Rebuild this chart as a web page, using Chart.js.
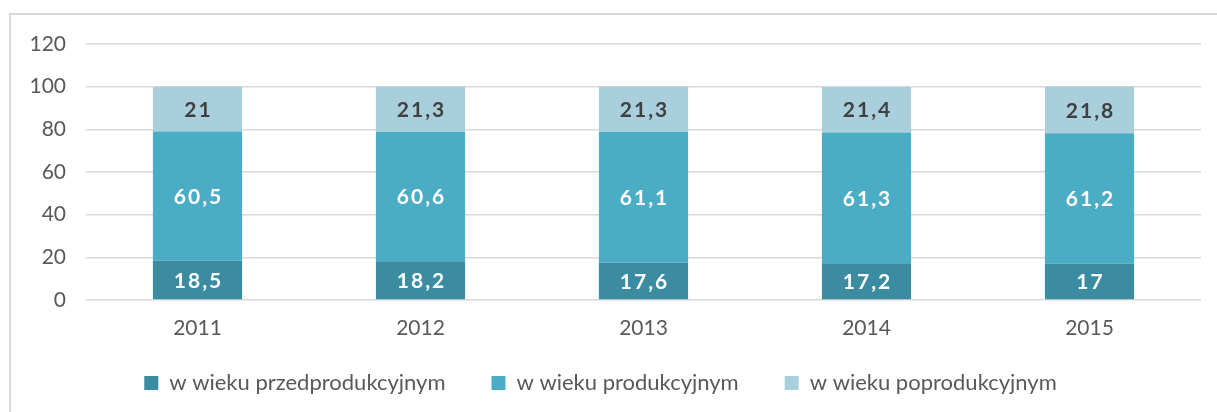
<!DOCTYPE html>
<html>
<head>
<meta charset="utf-8">
<script src="https://cdn.jsdelivr.net/npm/chart.js@4"></script>
<style>
  html, body { margin: 0; padding: 0; background: #fff; }
  #wrap { position: relative; width: 1217px; height: 412px; }
</style>
</head>
<body>
<div id="wrap"><canvas id="dChart_wiek"></canvas></div>
<script>
// dane
const lata = ['2011', '2012', '2013', '2014', '2015'];
const przedprodukcyjny = [18.5, 18.2, 17.6, 17.2, 17];
const produkcyjny = [60.5, 60.6, 61.1, 61.3, 61.2];
const poprodukcyjny = [21, 21.3, 21.3, 21.4, 21.8];
const osY = [0, 20, 40, 60, 80, 100, 120];

const fontName = "Lato, 'Open Sans', sans-serif";

// ramka wykresu (gora i lewo)
const ramka = {
    id: 'ramka',
    afterLayout(chart) {
        // os X jest niska w ukladzie, ale etykiety nie moga byc przyciete
        const x = chart.scales.x;
        x.bottom = x.top + 45;
    },
    beforeDraw(chart) {
        const c = chart.ctx;
        c.save();
        c.fillStyle = '#d9d9d9';
        c.fillRect(9, 13, chart.width - 9, 2);
        c.fillRect(9, 13, 2, chart.height - 13);
        c.restore();
    }
};

// etykiety wartosci w slupkach
const etykiety = {
    id: 'etykiety',
    afterDatasetsDraw(chart) {
        const c = chart.ctx;
        c.save();
        c.font = 'bold 21px ' + fontName;
        c.letterSpacing = '2px';
        c.textAlign = 'center';
        c.textBaseline = 'middle';
        chart.data.datasets.forEach((ds, i) => {
            const meta = chart.getDatasetMeta(i);
            meta.data.forEach((bar, j) => {
                const y = (bar.y + bar.base) / 2;
                c.fillStyle = ds.labelColor;
                c.fillText(String(ds.data[j]).replace('.', ','), bar.x + 1, y + 1);
            });
        });
        c.restore();
    }
};

const ctx = document.getElementById('dChart_wiek');
const dChart = new Chart(ctx, {
    type: 'bar',
    data: {
        labels: lata,
        datasets: [
            {
                label: 'w wieku przedprodukcyjnym',
                data: przedprodukcyjny,
                backgroundColor: '#3b8ba1',
                labelColor: '#ffffff'
            },
            {
                label: 'w wieku produkcyjnym',
                data: produkcyjny,
                backgroundColor: '#4bacc6',
                labelColor: '#ffffff'
            },
            {
                label: 'w wieku poprodukcyjnym',
                data: poprodukcyjny,
                backgroundColor: '#a9cfdc',
                labelColor: '#404040'
            }
        ]
    },
    options: {
        responsive: true,
        maintainAspectRatio: false,
        animation: false,
        layout: { padding: { left: 0, right: 16, top: 44, bottom: 8 } },
        datasets: {
            bar: { categoryPercentage: 1, barPercentage: 0.4 }
        },
        scales: {
            x: {
                stacked: true,
                afterFit: s => { s.height = 26; },
                grid: { display: false },
                border: { display: false },
                ticks: { color: '#595959', font: { family: fontName, size: 21 }, padding: 8 }
            },
            y: {
                stacked: true,
                min: 0,
                max: 120,
                afterBuildTicks: s => { s.ticks = osY.map(v => ({ value: v })); },
                afterFit: s => { s.width = 86; },
                grid: { color: '#d9d9d9', lineWidth: 1.5, drawTicks: false },
                border: { display: false },
                ticks: { color: '#595959', font: { family: fontName, size: 21 }, padding: 20 }
            }
        },
        plugins: {
            legend: {
                position: 'bottom',
                labels: {
                    color: '#595959',
                    font: { family: fontName, size: 22 },
                    boxWidth: 14,
                    boxHeight: 14,
                    padding: 46
                }
            },
            tooltip: { enabled: false }
        }
    },
    plugins: [ramka, etykiety]
});
</script>
</body>
</html>
